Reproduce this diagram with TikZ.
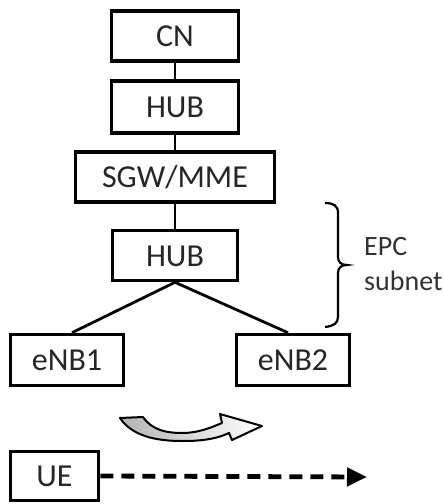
\documentclass[tikz,border=0pt]{standalone}
\usepackage{fontspec}
\setmainfont{Carlito}
\usetikzlibrary{arrows.meta,calc}
\begin{document}
\begin{tikzpicture}[x=1pt,y=-1pt,
  box/.style={draw, line width=3.6pt, inner sep=0pt, minimum height=50pt,
    font=\fontsize{32}{36}\selectfont, text=black!85, text height=21pt, text depth=0pt},
  link/.style={line width=2.8pt},
  moveline/.style={line width=4.8pt, dash pattern=on 13pt off 8pt,
    -{Triangle[length=20pt,width=18pt]}},
  brace/.style={line width=2.2pt},
  handover/.style={draw=black, line width=2pt, line join=round,
    left color=gray!60, right color=white},
]
\useasboundingbox (0,0) rectangle (444,504);

% network elements
\node[box, minimum width=127pt] (cn) at (175,36) {CN};
\node[box, minimum width=127pt, minimum height=52pt] (hub1) at (175,107) {HUB};
\node[box, minimum width=199pt] (sgw) at (175,177) {SGW/MME};
\node[box, minimum width=125pt] (hub2) at (175,255.5) {HUB};
\node[box, minimum width=113pt, minimum height=51pt] (enb1) at (67,360) {eNB1};
\node[box, minimum width=113pt, minimum height=51pt] (enb2) at (293,360) {eNB2};
\node[box, minimum width=88pt, minimum height=49pt] (ue) at (54.5,476) {UE};

% backbone links
\draw[link] (cn.south) -- (hub1.north);
\draw[link] (hub1.south) -- (sgw.north);
\draw[link] (sgw.south) -- (hub2.north);
\draw[link] (hub2.south) -- ($(enb1.north)+(5,0)$);
\draw[link] (hub2.south) -- ($(enb2.north)+(-5,0)$);

% EPC subnet brace and label
\draw[brace] (325,203) .. controls (334,203) and (338,206) .. (338,213)
  -- (338,257) .. controls (338,262) and (341,265) .. (347,265)
  .. controls (341,265) and (338,268) .. (338,273)
  -- (338,317) .. controls (338,323) and (334,326) .. (325,327);
\node[anchor=west, align=left, inner sep=0pt, text=black!80,
  font=\fontsize{28}{35}\selectfont] (epc) at (364,264) {EPC\\subnet};

% handover arrow
\path[handover] (120,418) -- (143,417)
  .. controls (152,430) and (166,433) .. (182,433)
  .. controls (198,433) and (210,428) .. (222,423)
  -- (220,414) -- (262,426) -- (232,440) -- (229,433)
  .. controls (214,440) and (198,441) .. (182,441)
  .. controls (156,441) and (132,436) .. (120,418) -- cycle;

% UE movement
\coordinate (dest) at (367,477);
\draw[moveline] (ue.east) -- (dest);
\end{tikzpicture}
\end{document}
